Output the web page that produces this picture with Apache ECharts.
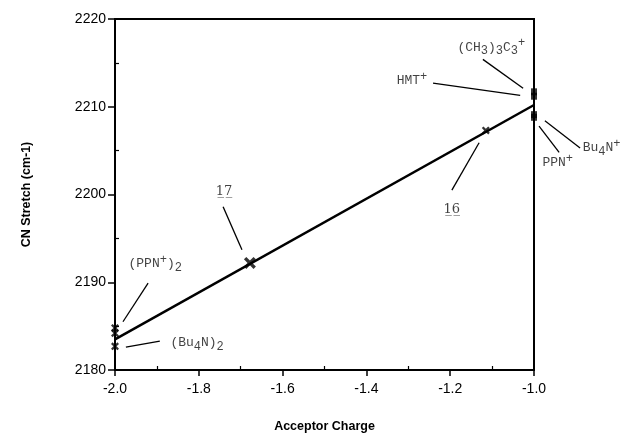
<!DOCTYPE html>
<html>
<head>
<meta charset="utf-8">
<script src="https://cdn.jsdelivr.net/npm/echarts@6/dist/echarts.min.js"></script>
<style>
  html, body { margin: 0; padding: 0; background: #fff; }
  #main { width: 632px; height: 438px; }
</style>
</head>
<body>
<div id="main"></div>
<script>
// straight line through the points
const fitLine = [[-2.0, 2183.5], [-1.0, 2210.2]];
// x-shaped points
const crossPoints = [[-2.0, 2184.8], [-2.0, 2184.2], [-2.0, 2182.7], [-1.678, 2192.2], [-1.115, 2207.3]];
// square points at -1.0
const squarePoints = [[-1.0, 2211.7], [-1.0, 2211.2], [-1.0, 2209.1], [-1.0, 2208.8]];

// annotation text and the leader lines (data coordinates)
const labelNames = [
  '(CH{s|3}){s|3}C{s|3}{p|+}',
  'HMT{p|+}',
  'PPN{p|+}',
  'Bu{s|4}N{p|+}',
  '{u|1̲7̲}',
  '{u|1̲6̲}',
  '(PPN{p|+}){s|2}',
  '(Bu{s|4}N){s|2}'
];
const labelPos = [
  [-1.184, 2216.8], [-1.329, 2213.0], [-0.981, 2203.6], [-0.885, 2205.3],
  [-1.761, 2200.3], [-1.217, 2198.3], [-1.969, 2192.1], [-1.869, 2183.1]
];
const leaders = [
  [[-1.122, 2215.4], [-1.026, 2212.1]],
  [[-1.241, 2212.7], [-1.033, 2211.3]],
  [[-0.988, 2207.8], [-0.940, 2204.8]],
  [[-0.974, 2208.4], [-0.890, 2205.3]],
  [[-1.742, 2198.6], [-1.697, 2193.7]],
  [[-1.196, 2200.5], [-1.131, 2205.9]],
  [[-1.921, 2189.9], [-1.981, 2185.5]],
  [[-1.974, 2182.6], [-1.893, 2183.3]]
];

const chart = echarts.init(document.getElementById('main'));

const crossPath = 'path://M0,2L2,0L5,3L8,0L10,2L7,5L10,8L8,10L5,7L2,10L0,8L3,5Z';

chart.setOption({
  animation: false,
  grid: {
    left: 115, right: 98, top: 19, bottom: 68,
    show: true, borderColor: '#000', borderWidth: 2
  },
  xAxis: {
    type: 'value',
    min: -2.0, max: -1.0, interval: 0.2,
    name: 'Acceptor Charge',
    nameLocation: 'middle',
    nameGap: 50,
    nameTextStyle: { fontFamily: 'Liberation Sans', fontWeight: 'bold', fontSize: 12.5, color: '#000' },
    axisLine: { lineStyle: { color: '#000', width: 2 } },
    axisTick: { inside: false, length: 6, lineStyle: { color: '#000', width: 1.5 } },
    minorTick: { show: true, splitNumber: 2, length: -4, lineStyle: { color: '#000', width: 1.2 } },
    axisLabel: {
      margin: 12, fontFamily: 'Liberation Sans', fontSize: 14, color: '#000',
      formatter: v => v.toFixed(1)
    },
    splitLine: { show: false }
  },
  yAxis: {
    type: 'value',
    min: 2180, max: 2220, interval: 10,
    name: 'CN Stretch (cm-1)',
    nameLocation: 'middle',
    nameGap: 82,
    nameTextStyle: { fontFamily: 'Liberation Sans', fontWeight: 'bold', fontSize: 12.5, color: '#000' },
    axisLine: { lineStyle: { color: '#000', width: 2 } },
    axisTick: { inside: false, length: 7, lineStyle: { color: '#000', width: 1.5 } },
    minorTick: { show: true, splitNumber: 2, length: -4, lineStyle: { color: '#000', width: 1.2 } },
    axisLabel: {
      margin: 9, fontFamily: 'Liberation Sans', fontSize: 14, color: '#000',
      formatter: v => String(v)
    },
    splitLine: { show: false }
  },
  series: [
    {
      type: 'line',
      data: fitLine,
      showSymbol: false,
      lineStyle: { color: '#000', width: 2.5 },
      z: 2
    },
    {
      type: 'scatter',
      data: crossPoints,
      symbol: crossPath,
      symbolSize: (v, p) => (p.dataIndex === 3 ? 12 : 8),
      itemStyle: { color: '#000' },
      clip: false,
      z: 3
    },
    {
      type: 'scatter',
      data: squarePoints,
      symbol: 'rect',
      symbolSize: [6, 7],
      itemStyle: { color: '#000' },
      clip: false,
      z: 3
    },
    {
      type: 'lines',
      coordinateSystem: 'cartesian2d',
      data: leaders.map(c => ({ coords: c })),
      lineStyle: { color: '#000', width: 1.3, opacity: 1 },
      clip: false,
      z: 2
    },
    {
      type: 'scatter',
      data: labelPos.map((p, i) => ({ value: p, name: labelNames[i] })),
      symbolSize: 1,
      itemStyle: { color: 'rgba(0,0,0,0)' },
      clip: false,
      silent: true,
      label: {
        show: true,
        position: 'right',
        distance: 0,
        formatter: p => p.name,
        fontFamily: 'Liberation Mono',
        fontSize: 13,
        color: '#111',
        lineHeight: 20,
        rich: {
          s: { fontFamily: 'Liberation Mono', fontSize: 12, color: '#111', verticalAlign: 'bottom', lineHeight: 11 },
          p: { fontFamily: 'Liberation Mono', fontSize: 12, color: '#111', verticalAlign: 'top', lineHeight: 11 },
          u: { fontFamily: 'DejaVu Serif', fontSize: 13, color: '#111', lineHeight: 20 }
        }
      },
      z: 4
    }
  ]
});
</script>
</body>
</html>
